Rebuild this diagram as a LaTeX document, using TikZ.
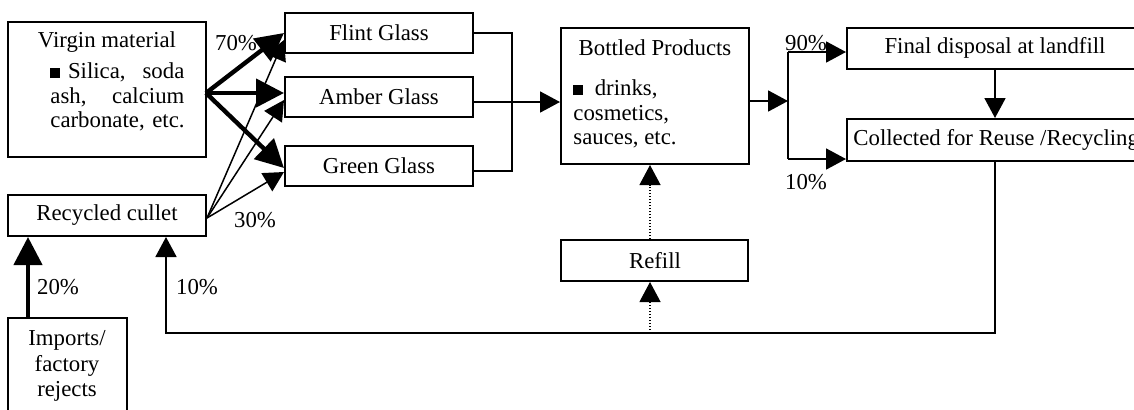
\documentclass[tikz,border=0pt]{standalone}
\usepackage{fontspec}
\setmainfont{Liberation Serif}
\usetikzlibrary{arrows.meta,fit}
\newcommand{\sqbul}{\rule[0.3pt]{5pt}{5pt}}
\begin{document}
\begin{tikzpicture}[x=0.5pt,y=-0.5pt,
  box/.style={draw,line width=1pt,inner sep=0pt},
  txt/.style={inner sep=0pt,font=\fontsize{11.4}{12.2}\selectfont},
  plain/.style={line width=0.9pt},
  conn/.style={line width=0.9pt,-{Triangle[length=10pt,width=10.5pt]}},
  heavy/.style={line width=2.2pt,-{Triangle[length=14pt,width=14pt]}},
  fine/.style={line width=0.75pt,-{Triangle[length=10pt,width=10.5pt]}},
  dots/.style={line width=0.6pt,dash pattern=on 0.6pt off 0.9pt,-{Triangle[length=10pt,width=10.5pt]}}]
\useasboundingbox (0,0) rectangle (1134,409);
\clip (0,0) rectangle (1134,409);
% boxes
\node[box,fit={(8,22)(206,157)}] (virgin) {};
\node[box,fit={(8,195)(206,236)}] (cullet) {};
\node[box,fit={(8,318)(127,420)}] (imports) {};
\node[box,fit={(285,13)(473,53)}] (flint) {};
\node[box,fit={(285,77)(473,117)}] (amber) {};
\node[box,fit={(285,146)(473,186)}] (green) {};
\node[box,fit={(561,28)(749,164)}] (bp) {};
\node[box,fit={(561,240)(748,281)}] (refill) {};
\node[box,fit={(847,28)(1145,69)}] (final) {};
\node[box,fit={(847,119)(1145,161)}] (coll) {};
% texts
\node[txt] (tv) at (107,42) {Virgin material};
\node[txt,anchor=west,align=left,text width=67pt] (tvl) at (50,97)
  {\sqbul\ Silica,\hfill soda\\ash,\hfill calcium\\\mbox{carbonate, etc.}};
\node[txt] (tc) at (107,215) {Recycled cullet};
\node[txt,align=center,font=\fontsize{11.4}{12.6}\selectfont] (ti) at (67,366) {Imports/\\factory\\rejects};
\node[txt] (tf) at (379,33) {Flint Glass};
\node[txt] (ta) at (379,97) {Amber Glass};
\node[txt] (tg) at (379,166) {Green Glass};
\node[txt] (tb) at (655,48) {Bottled Products};
\node[txt,anchor=west,align=left] (tbl) at (573,114) {\sqbul\ \ drinks,\\cosmetics,\\sauces, etc.};
\node[txt] (tr) at (655,261) {Refill};
\node[txt] (tfd) at (995,48) {Final disposal at landfill};
\node[txt,anchor=west] (tcr) at (853,140) {Collected for Reuse /Recycling};
% labels
\node[txt] (l70) at (236,43) {70\%};
\node[txt] (l30) at (255,220) {30\%};
\node[txt] (l20) at (58,287) {20\%};
\node[txt] (l10a) at (197,287) {10\%};
\node[txt] (l90) at (806,43) {90\%};
\node[txt] (l10b) at (806,182) {10\%};
% coordinates
\coordinate (vs) at (206,93);
\coordinate (cs) at (207,218);
\coordinate (j) at (512,102);
\coordinate (s0) at (788,101);
\coordinate (s1) at (788,52);
\coordinate (s2) at (788,159);
\coordinate (c1) at (995,333);
\coordinate (c2) at (166,333);
\coordinate (d0) at (650,333);
\coordinate (i1) at (28,0);
% fan from virgin material
\draw[heavy] (vs) -- (flint.west);
\draw[heavy] (vs) -- (amber.west |- vs);
\draw[heavy] (vs) -- ([yshift=-1pt]green.west);
% fan from cullet
\draw[fine] (cs) -- ([yshift=-3.5pt]flint.west);
\draw[fine] (cs) -- ([yshift=-1.5pt]amber.west);
\draw[fine] (cs) -- ([yshift=-3pt]green.west);
% bracket to bottled products
\draw[plain] (flint.east) -| (j);
\draw[plain] ([yshift=-2.5pt]green.east) -| (j);
\draw[conn] (amber.east |- j) -- (bp.west |- j);
% split
\draw[conn] (bp.east |- s0) -- (s0);
\draw[plain] (s1) -- (s2);
\draw[conn] (s1) -- (final.west |- s1);
\draw[conn] (s2) -- (coll.west |- s2);
\draw[conn] (final.south -| c1) -- (coll.north -| c1);
% return loop
\draw[conn] (coll.south -| c1) -- (c1) -- (c2) -- (c2 |- cullet.south);
% refill
\draw[dots] (d0) -- (refill.south -| d0);
\draw[dots] (refill.north -| d0) -- (bp.south -| d0);
% imports
\draw[heavy] (imports.north -| i1) -- (cullet.south -| i1);
\end{tikzpicture}
\end{document}
